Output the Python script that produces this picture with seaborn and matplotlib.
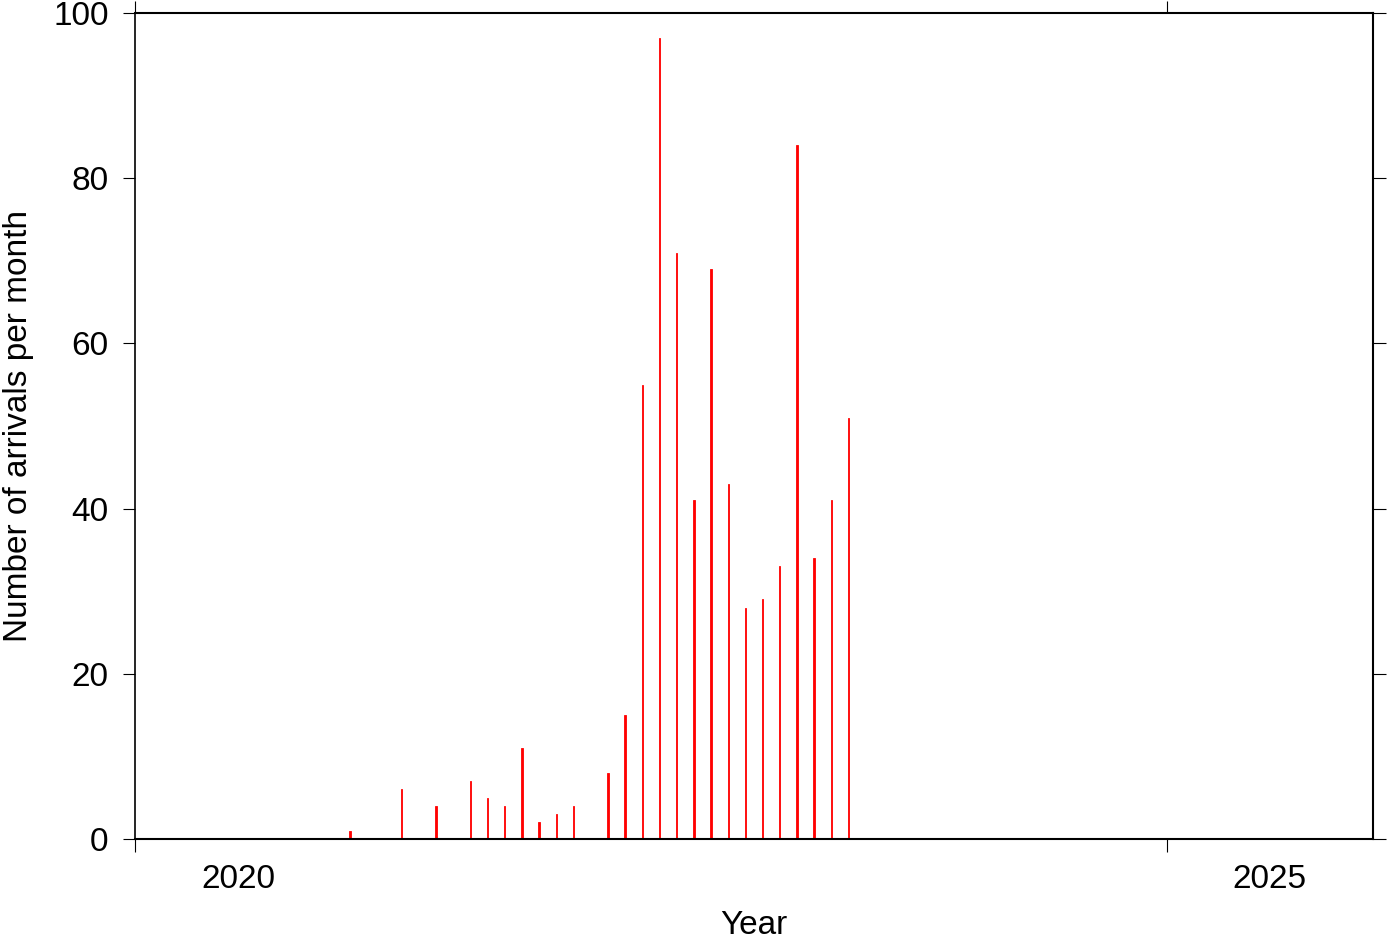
import matplotlib
matplotlib.use("Agg")
import matplotlib.pyplot as plt
import seaborn as sns
import pandas as pd
import numpy as np

sns.set_theme(style="white")
plt.rcParams['font.family'] = ['Liberation Sans', 'DejaVu Sans']

# Data: monthly arrival counts
years = [2021, 2021, 2021, 2021, 2021, 2021, 2021, 2021,
         2022, 2022, 2022, 2022, 2022, 2022, 2022, 2022, 2022, 2022, 2022,
         2023, 2023, 2023, 2023, 2023, 2023]
months = [1, 4, 6, 8, 9, 10, 11, 12,
          1, 2, 4, 5, 6, 7, 8, 9, 10, 11, 12,
          1, 2, 3, 4, 5, 6]
counts = [1, 6, 4, 7, 5, 4, 11, 2,
          3, 4, 8, 15, 55, 97, 71, 41, 69, 43, 28,
          29, 33, 84, 34, 41, 51]
year_ticks = [2020, 2025]
year_labels = ["2020", "2025"]
y_ticks = [0, 20, 40, 60, 80, 100]

df = pd.DataFrame({"year": years, "month": months, "count": counts})
df["t"] = df["year"] + (df["month"] - 0.5) / 12.0

fig = plt.figure(figsize=(13.87, 9.42), dpi=100)
ax = fig.add_axes([135/1387, 1 - 839/942, (1373-135)/1387, (839-13)/942])

sns.barplot(data=df, x="t", y="count", native_scale=True, width=0.08,
            color="#ff0000", saturation=1, linewidth=0.6, edgecolor="#ff0000",
            ax=ax)

ax.set_xlim(2020, 2026)
ax.set_ylim(0, 100)

# major ticks at year boundaries, labels centered within year
ax.set_xticks(year_ticks)
ax.set_xticklabels([])
ax.set_xticks([y + 0.5 for y in year_ticks], minor=True)
ax.set_xticklabels(year_labels, minor=True)
ax.tick_params(axis="x", which="major", direction="out", length=9, width=0.8,
               top=True, bottom=True, color="black")
ax.tick_params(axis="x", which="minor", length=0, pad=18, labelsize=24,
               labelcolor="black")

ax.set_yticks(y_ticks)
ax.set_yticklabels([str(v) for v in y_ticks])
ax.tick_params(axis="y", which="major", direction="out", length=9, width=0.8,
               left=True, right=True, pad=10, labelsize=24, color="black",
               labelcolor="black")

for side, sp in ax.spines.items():
    sp.set_visible(True)
    sp.set_color("black")
    sp.set_linewidth(1.5)
ax.spines["left"].set_linewidth(1.2)

ax.set_xlabel("Year", fontsize=24, color="black", labelpad=11)
ax.set_ylabel("Number of arrivals per month", fontsize=24, color="black",
              labelpad=14)
ax.grid(False)

fig.savefig("out.png", dpi=100)
